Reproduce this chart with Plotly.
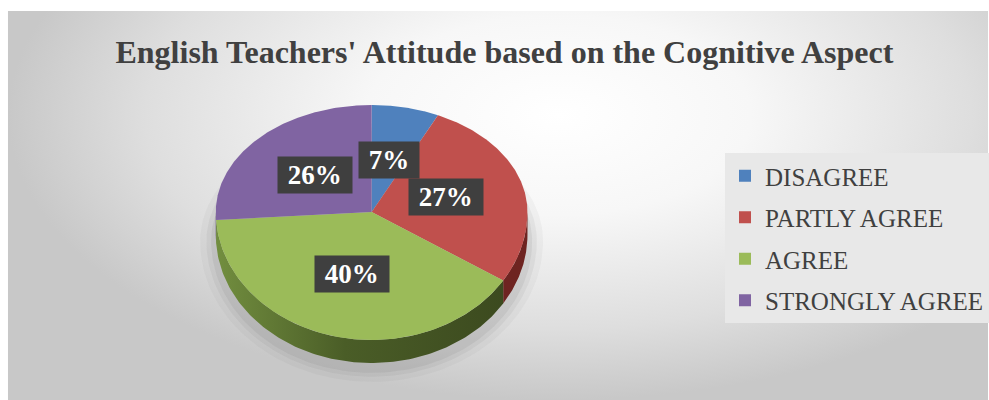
import numpy as np
import plotly.graph_objects as go

# ---- data ----
categories = ["DISAGREE", "PARTLY AGREE", "AGREE", "STRONGLY AGREE"]
values = [7, 27, 40, 26]
top_colors = ["#4f81bd", "#c0504d", "#9bbb59", "#8064a2"]
side_colors = ["#2c4d74", "#6e2421", "#4a5e26", "#4b3a63"]
title_text = "English Teachers' Attitude based on the Cognitive Aspect"

# ---- layout geometry (pixel-like axis units) ----
W, H = 989, 400
CX, CY = 372, 212          # pie centre
RX, RY_TOP, RY_BOT = 156, 107, 128
DEPTH = 23
FONT = "Liberation Serif, Times New Roman, serif"


def proj(theta_deg, r=1.0, dy=0.0):
    t = np.radians(theta_deg)
    x = CX + r * RX * np.sin(t)
    c = np.cos(t)
    ry = np.where(c >= 0, RY_TOP, RY_BOT)
    y = CY - r * ry * c + dy
    return x, y


fig = go.Figure()

# background panel with radial gradient (extended off-canvas to move the light centre up/right)
fig.add_trace(go.Scatter(
    x=[8, 1110, 1110, 8, 8], y=[-170, -170, H, H, -170], mode="lines", line=dict(width=0),
    fill="toself", fillgradient=dict(type="radial",
                                     colorscale=[[0, "#ffffff"], [0.35, "#f7f7f7"],
                                                 [0.75, "#dedede"], [1, "#c8c8c8"]]),
    hoverinfo="skip", showlegend=False))
# white strip at the top of the page
fig.add_trace(go.Scatter(
    x=[0, W, W, 0, 0], y=[0, 0, 11, 11, 0], mode="lines", line=dict(width=0),
    fill="toself", fillcolor="white", hoverinfo="skip", showlegend=False))

# soft shadow under the pie
for k, op in [(1.10, 0.05), (1.06, 0.07), (1.03, 0.09)]:
    th = np.linspace(0, 360, 200)
    sx, sy = proj(th, k, DEPTH + 6)
    fig.add_trace(go.Scatter(x=sx, y=sy, mode="lines", line=dict(width=0), fill="toself",
                             fillcolor=f"rgba(90,90,90,{op})", hoverinfo="skip", showlegend=False))

total = float(sum(values))
bounds = np.concatenate([[0], np.cumsum(values) / total * 360.0])

# side walls (front half only: 90..270 degrees)
for i, (a0, a1) in enumerate(zip(bounds[:-1], bounds[1:])):
    s0, s1 = max(a0, 90), min(a1, 270)
    if s1 <= s0:
        continue
    th = np.linspace(s0, s1, 120)
    tx, ty = proj(th)
    bx, by = proj(th[::-1], 1.0, DEPTH)
    xs = np.concatenate([tx, bx, tx[:1]])
    ys = np.concatenate([ty, by, ty[:1]])
    kw = dict(fillcolor=side_colors[i])
    if categories[i] == "AGREE":
        kw = dict(fillgradient=dict(type="horizontal",
                                    colorscale=[[0, "#728e3f"], [0.45, "#4a5d27"], [1, "#3c4a1f"]]))
    fig.add_trace(go.Scatter(x=xs, y=ys, mode="lines", line=dict(width=0), fill="toself",
                             hoverinfo="skip", showlegend=False, **kw))

# top faces
for i, (a0, a1) in enumerate(zip(bounds[:-1], bounds[1:])):
    th = np.linspace(a0, a1, 150)
    ax, ay = proj(th)
    xs = np.concatenate([[CX], ax, [CX]])
    ys = np.concatenate([[CY], ay, [CY]])
    fig.add_trace(go.Scatter(x=xs, y=ys, mode="lines", line=dict(width=0), fill="toself",
                             fillcolor=top_colors[i], name=categories[i],
                             hovertemplate=f"{categories[i]}: {values[i]}%<extra></extra>",
                             showlegend=False))

# legend entries
for i, c in enumerate(categories):
    fig.add_trace(go.Scatter(x=[None], y=[None], mode="markers", name=c, legendgroup=c,
                             marker=dict(symbol="square", size=12, color=top_colors[i])))

# data labels
for i, (a0, a1) in enumerate(zip(bounds[:-1], bounds[1:])):
    mx, my = proj((a0 + a1) / 2, 0.5)
    pct = round(values[i] / total * 100)
    fig.add_annotation(x=float(mx), y=float(my), xref="x", yref="y", showarrow=False,
                       text=f"\u00a0{pct}%\u00a0",
                       font=dict(family=FONT, size=27, color="white", weight="bold"),
                       bgcolor="#3f3f3f", borderpad=3)

fig.update_layout(
    width=W, height=H, margin=dict(l=0, r=0, t=0, b=0),
    paper_bgcolor="white", plot_bgcolor="white",
    xaxis=dict(range=[0, W], visible=False, fixedrange=True),
    yaxis=dict(range=[H, 0], visible=False, fixedrange=True),
    title=dict(text=title_text, x=0.51, xanchor="center", y=1 - 52 / H, yanchor="middle",
               font=dict(family=FONT, size=32, color="#404040", weight="bold")),
    legend=dict(x=726 / W, xanchor="left", y=1 - 153 / H, yanchor="top",
                bgcolor="#e8e8e8", font=dict(family=FONT, size=25, color="#404040"),
                tracegroupgap=6, itemwidth=30),
    showlegend=True,
)

fig.write_html("out.html")
